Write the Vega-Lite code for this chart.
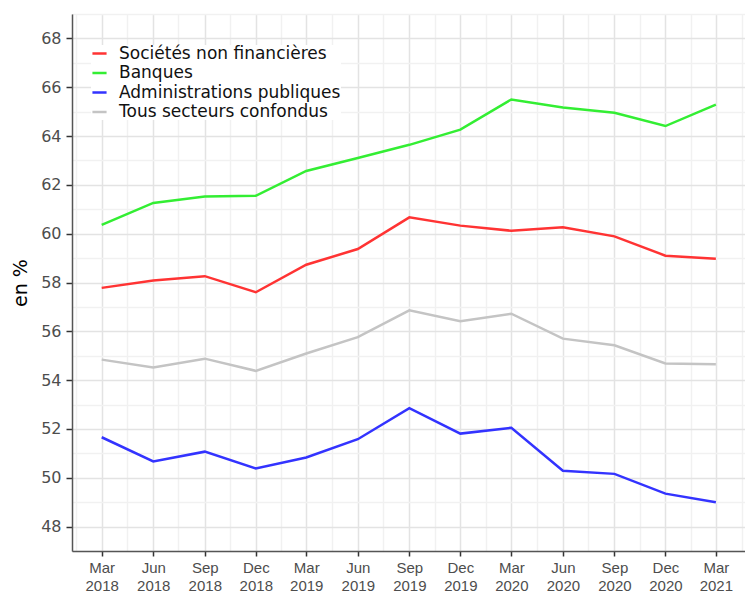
{
  "$schema": "https://vega.github.io/schema/vega-lite/v6.json",
  "width": 673,
  "height": 537,
  "autosize": {"type": "none"},
  "padding": {"left": 72, "top": 14, "right": 0, "bottom": 43},
  "background": "white",
  "config": {
    "font": "Liberation Sans",
    "view": {"stroke": "#d0d0d0", "strokeWidth": 1}
  },
  "data": {
    "values": [
      {"date": "2018-03-01T00:00:00", "secteur": "Sociétés non financières", "valeur": 57.78},
      {"date": "2018-06-01T00:00:00", "secteur": "Sociétés non financières", "valeur": 58.08},
      {"date": "2018-09-01T00:00:00", "secteur": "Sociétés non financières", "valeur": 58.26},
      {"date": "2018-12-01T00:00:00", "secteur": "Sociétés non financières", "valeur": 57.6},
      {"date": "2019-03-01T00:00:00", "secteur": "Sociétés non financières", "valeur": 58.73},
      {"date": "2019-06-01T00:00:00", "secteur": "Sociétés non financières", "valeur": 59.37},
      {"date": "2019-09-01T00:00:00", "secteur": "Sociétés non financières", "valeur": 60.67},
      {"date": "2019-12-01T00:00:00", "secteur": "Sociétés non financières", "valeur": 60.33},
      {"date": "2020-03-01T00:00:00", "secteur": "Sociétés non financières", "valeur": 60.12},
      {"date": "2020-06-01T00:00:00", "secteur": "Sociétés non financières", "valeur": 60.26},
      {"date": "2020-09-01T00:00:00", "secteur": "Sociétés non financières", "valeur": 59.89},
      {"date": "2020-12-01T00:00:00", "secteur": "Sociétés non financières", "valeur": 59.1},
      {"date": "2021-03-01T00:00:00", "secteur": "Sociétés non financières", "valeur": 58.97},
      {"date": "2018-03-01T00:00:00", "secteur": "Banques", "valeur": 60.36},
      {"date": "2018-06-01T00:00:00", "secteur": "Banques", "valeur": 61.26},
      {"date": "2018-09-01T00:00:00", "secteur": "Banques", "valeur": 61.52},
      {"date": "2018-12-01T00:00:00", "secteur": "Banques", "valeur": 61.55},
      {"date": "2019-03-01T00:00:00", "secteur": "Banques", "valeur": 62.57},
      {"date": "2019-06-01T00:00:00", "secteur": "Banques", "valeur": 63.1},
      {"date": "2019-09-01T00:00:00", "secteur": "Banques", "valeur": 63.64},
      {"date": "2019-12-01T00:00:00", "secteur": "Banques", "valeur": 64.26},
      {"date": "2020-03-01T00:00:00", "secteur": "Banques", "valeur": 65.5},
      {"date": "2020-06-01T00:00:00", "secteur": "Banques", "valeur": 65.17},
      {"date": "2020-09-01T00:00:00", "secteur": "Banques", "valeur": 64.95},
      {"date": "2020-12-01T00:00:00", "secteur": "Banques", "valeur": 64.41},
      {"date": "2021-03-01T00:00:00", "secteur": "Banques", "valeur": 65.29},
      {"date": "2018-03-01T00:00:00", "secteur": "Administrations publiques", "valeur": 51.66},
      {"date": "2018-06-01T00:00:00", "secteur": "Administrations publiques", "valeur": 50.67},
      {"date": "2018-09-01T00:00:00", "secteur": "Administrations publiques", "valeur": 51.07},
      {"date": "2018-12-01T00:00:00", "secteur": "Administrations publiques", "valeur": 50.38},
      {"date": "2019-03-01T00:00:00", "secteur": "Administrations publiques", "valeur": 50.83},
      {"date": "2019-06-01T00:00:00", "secteur": "Administrations publiques", "valeur": 51.58},
      {"date": "2019-09-01T00:00:00", "secteur": "Administrations publiques", "valeur": 52.85},
      {"date": "2019-12-01T00:00:00", "secteur": "Administrations publiques", "valeur": 51.81},
      {"date": "2020-03-01T00:00:00", "secteur": "Administrations publiques", "valeur": 52.05},
      {"date": "2020-06-01T00:00:00", "secteur": "Administrations publiques", "valeur": 50.29},
      {"date": "2020-09-01T00:00:00", "secteur": "Administrations publiques", "valeur": 50.16},
      {"date": "2020-12-01T00:00:00", "secteur": "Administrations publiques", "valeur": 49.35},
      {"date": "2021-03-01T00:00:00", "secteur": "Administrations publiques", "valeur": 49.0},
      {"date": "2018-03-01T00:00:00", "secteur": "Tous secteurs confondus", "valeur": 54.84},
      {"date": "2018-06-01T00:00:00", "secteur": "Tous secteurs confondus", "valeur": 54.52},
      {"date": "2018-09-01T00:00:00", "secteur": "Tous secteurs confondus", "valeur": 54.88},
      {"date": "2018-12-01T00:00:00", "secteur": "Tous secteurs confondus", "valeur": 54.38},
      {"date": "2019-03-01T00:00:00", "secteur": "Tous secteurs confondus", "valeur": 55.09},
      {"date": "2019-06-01T00:00:00", "secteur": "Tous secteurs confondus", "valeur": 55.76},
      {"date": "2019-09-01T00:00:00", "secteur": "Tous secteurs confondus", "valeur": 56.86},
      {"date": "2019-12-01T00:00:00", "secteur": "Tous secteurs confondus", "valeur": 56.41},
      {"date": "2020-03-01T00:00:00", "secteur": "Tous secteurs confondus", "valeur": 56.72},
      {"date": "2020-06-01T00:00:00", "secteur": "Tous secteurs confondus", "valeur": 55.7},
      {"date": "2020-09-01T00:00:00", "secteur": "Tous secteurs confondus", "valeur": 55.43},
      {"date": "2020-12-01T00:00:00", "secteur": "Tous secteurs confondus", "valeur": 54.68},
      {"date": "2021-03-01T00:00:00", "secteur": "Tous secteurs confondus", "valeur": 54.65}
    ]
  },
  "mark": {"type": "line", "strokeWidth": 2.5},
  "encoding": {
    "x": {
      "field": "date",
      "type": "temporal",
      "scale": {
        "domain": [
          {"year": 2018, "month": 1, "date": 7},
          {"year": 2021, "month": 4, "date": 22}
        ]
      },
      "axis": {
        "title": null,
        "values": [
          {"year": 2018, "month": 1, "date": 15},
          {"year": 2018, "month": 3, "date": 1},
          {"year": 2018, "month": 4, "date": 16},
          {"year": 2018, "month": 6, "date": 1},
          {"year": 2018, "month": 7, "date": 16},
          {"year": 2018, "month": 9, "date": 1},
          {"year": 2018, "month": 10, "date": 16},
          {"year": 2018, "month": 12, "date": 1},
          {"year": 2019, "month": 1, "date": 15},
          {"year": 2019, "month": 3, "date": 1},
          {"year": 2019, "month": 4, "date": 16},
          {"year": 2019, "month": 6, "date": 1},
          {"year": 2019, "month": 7, "date": 16},
          {"year": 2019, "month": 9, "date": 1},
          {"year": 2019, "month": 10, "date": 16},
          {"year": 2019, "month": 12, "date": 1},
          {"year": 2020, "month": 1, "date": 15},
          {"year": 2020, "month": 3, "date": 1},
          {"year": 2020, "month": 4, "date": 16},
          {"year": 2020, "month": 6, "date": 1},
          {"year": 2020, "month": 7, "date": 16},
          {"year": 2020, "month": 9, "date": 1},
          {"year": 2020, "month": 10, "date": 16},
          {"year": 2020, "month": 12, "date": 1},
          {"year": 2021, "month": 1, "date": 15},
          {"year": 2021, "month": 3, "date": 1},
          {"year": 2021, "month": 4, "date": 16}
        ],
        "labelExpr": "date(datum.value) == 1 ? [timeFormat(datum.value, '%b'), timeFormat(datum.value, '%Y')] : ''",
        "labelFontSize": 15,
        "labelColor": "#4d4d4d",
        "labelLineHeight": 18,
        "labelPadding": 4,
        "labelFlush": false,
        "labelOverlap": false,
        "tickSize": 5,
        "tickWidth": 1.5,
        "tickColor": {"condition": {"test": "date(datum.value) == 1", "value": "#333333"}, "value": "transparent"},
        "grid": true,
        "gridColor": {"condition": {"test": "date(datum.value) == 1", "value": "#e3e3e3"}, "value": "#f1f1f1"},
        "gridWidth": 1.5,
        "domainColor": "#555555",
        "domainWidth": 1.5
      }
    },
    "y": {
      "field": "valeur",
      "type": "quantitative",
      "scale": {"domain": [47, 69], "nice": false, "zero": false},
      "axis": {
        "title": "en %",
        "titleFont": "DejaVu Sans",
        "titleFontSize": 19,
        "titleFontWeight": "normal",
        "titleColor": "#000000",
        "titlePadding": 10,
        "values": [47, 48, 49, 50, 51, 52, 53, 54, 55, 56, 57, 58, 59, 60, 61, 62, 63, 64, 65, 66, 67, 68, 69],
        "labelExpr": "datum.value % 2 == 0 ? datum.label : ''",
        "labelFont": "DejaVu Sans",
        "labelFontSize": 16,
        "labelColor": "#4d4d4d",
        "labelPadding": 5,
        "tickSize": 6,
        "tickWidth": 1.5,
        "tickColor": {"condition": {"test": "datum.value % 2 == 0", "value": "#333333"}, "value": "transparent"},
        "grid": true,
        "gridColor": {"condition": {"test": "datum.value % 2 == 0", "value": "#e3e3e3"}, "value": "#f1f1f1"},
        "gridWidth": 1.5,
        "domainColor": "#555555",
        "domainWidth": 1.5
      }
    },
    "color": {
      "field": "secteur",
      "type": "nominal",
      "sort": ["Sociétés non financières", "Banques", "Administrations publiques", "Tous secteurs confondus"],
      "scale": {
        "domain": ["Sociétés non financières", "Banques", "Administrations publiques", "Tous secteurs confondus"],
        "range": ["#ff3333", "#33ee33", "#3333ff", "#c4c4c4"]
      },
      "legend": {
        "title": null,
        "orient": "none",
        "legendX": 19,
        "legendY": 31,
        "padding": 0,
        "symbolType": "stroke",
        "symbolStrokeWidth": 2.5,
        "symbolSize": 200,
        "labelFont": "DejaVu Sans",
        "labelFontSize": 17,
        "labelColor": "#111111",
        "labelOffset": 11,
        "labelLimit": 0,
        "rowPadding": 1.5,
        "fillColor": "white"
      }
    }
  }
}
